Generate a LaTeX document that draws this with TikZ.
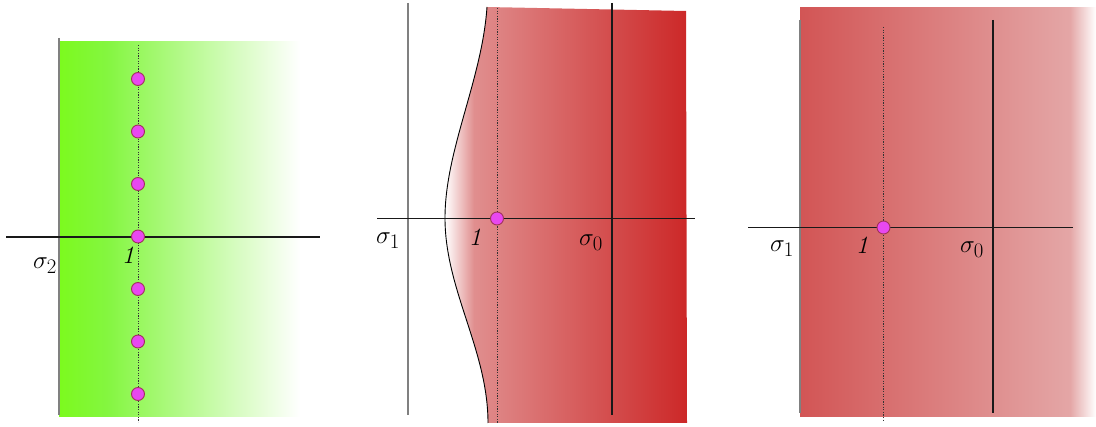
\documentclass[tikz,border=0pt]{standalone}
\definecolor{gA}{RGB}{124,250,30}
\definecolor{gB}{RGB}{132,246,64}
\definecolor{rA}{RGB}{224,142,142}
\definecolor{rB}{RGB}{204,40,40}
\definecolor{pA}{RGB}{210,85,85}
\definecolor{pB}{RGB}{228,166,166}
\definecolor{poleFill}{RGB}{232,72,240}
\definecolor{poleEdge}{RGB}{160,50,90}
\definecolor{edgeGray}{RGB}{128,128,128}
\pgfdeclarehorizontalshading{greenshade}{100bp}{color(0bp)=(gA); color(25bp)=(gA); color(35bp)=(gB); color(75bp)=(white); color(100bp)=(white)}
\pgfdeclarehorizontalshading{redshade}{100bp}{color(0bp)=(white); color(25bp)=(white); color(31bp)=(rA); color(75bp)=(rB); color(100bp)=(rB)}
\pgfdeclarehorizontalshading{pinkshade}{100bp}{color(0bp)=(pA); color(25bp)=(pA); color(70.6bp)=(pB); color(75bp)=(white); color(100bp)=(white)}
\begin{document}
\begin{tikzpicture}[x=1pt,y=-1pt,
  axisline/.style={black!90, line width=1.3pt},
  grayline/.style={edgeGray, line width=1.3pt},
  dotline/.style={dash pattern=on 1.3pt off 1.3pt, line width=1pt, black!80},
  boundary/.style={black, line width=0.9pt},
  pole/.style={circle, fill=poleFill, draw=poleEdge, line width=0.9pt, minimum size=13pt, inner sep=0pt},
  lab/.style={font=\Huge, inner sep=0pt}]
\useasboundingbox (0,0) rectangle (1096,427);
% ---- left panel ----
\shade[shading=greenshade] (59,42) rectangle (300,417);
\draw[grayline] (59,38) -- (59,415);
\draw[dotline] (138,45) -- (138,422);
\draw[axisline] (6,237) -- (320,237);
\foreach \i/\yy in {1/79,2/131.5,3/184,4/236.5,5/289,6/341.5,7/394}
  \node[pole] (L\i) at (138,\yy) {};
\node[lab] (Ls) at (45,266) {$\sigma_2$};
\node[lab] (Lone) at (128,255) {\textit{1}};
% ---- middle panel ----
\shade[shading=redshade] (487,7) .. controls (482,80) and (445,150) .. (445,218)
   .. controls (445,290) and (488,350) .. (488,423) -- (687,423) -- (686,11) -- cycle;
\draw[boundary] (487,7) .. controls (482,80) and (445,150) .. (445,218)
   .. controls (445,290) and (488,350) .. (488,423);
\draw[grayline] (408,3) -- (408,415);
\draw[dotline] (497,8) -- (497,423);
\draw[axisline] (612,3) -- (612,415);
\draw[axisline] (377,218.5) -- (695,218.5);
\node[pole] (M) at (497,218.5) {};
\node[lab] (Ms1) at (388,241) {$\sigma_1$};
\node[lab] (Mone) at (475,237) {\textit{1}};
\node[lab] (Ms0) at (591,243) {$\sigma_0$};
% ---- right panel ----
\shade[shading=pinkshade] (800,8) rectangle (1096,417);
\draw[grayline] (800,20) -- (800,413);
\draw[dotline] (883.5,27) -- (883.5,420);
\draw[axisline] (993,20) -- (993,413);
\draw[axisline] (748,227.5) -- (1073,227.5);
\node[pole] (R) at (883.5,227.5) {};
\node[lab] (Rs1) at (782,249) {$\sigma_1$};
\node[lab] (Rone) at (862,245) {\textit{1}};
\node[lab] (Rs0) at (972,250) {$\sigma_0$};
\end{tikzpicture}
\end{document}
